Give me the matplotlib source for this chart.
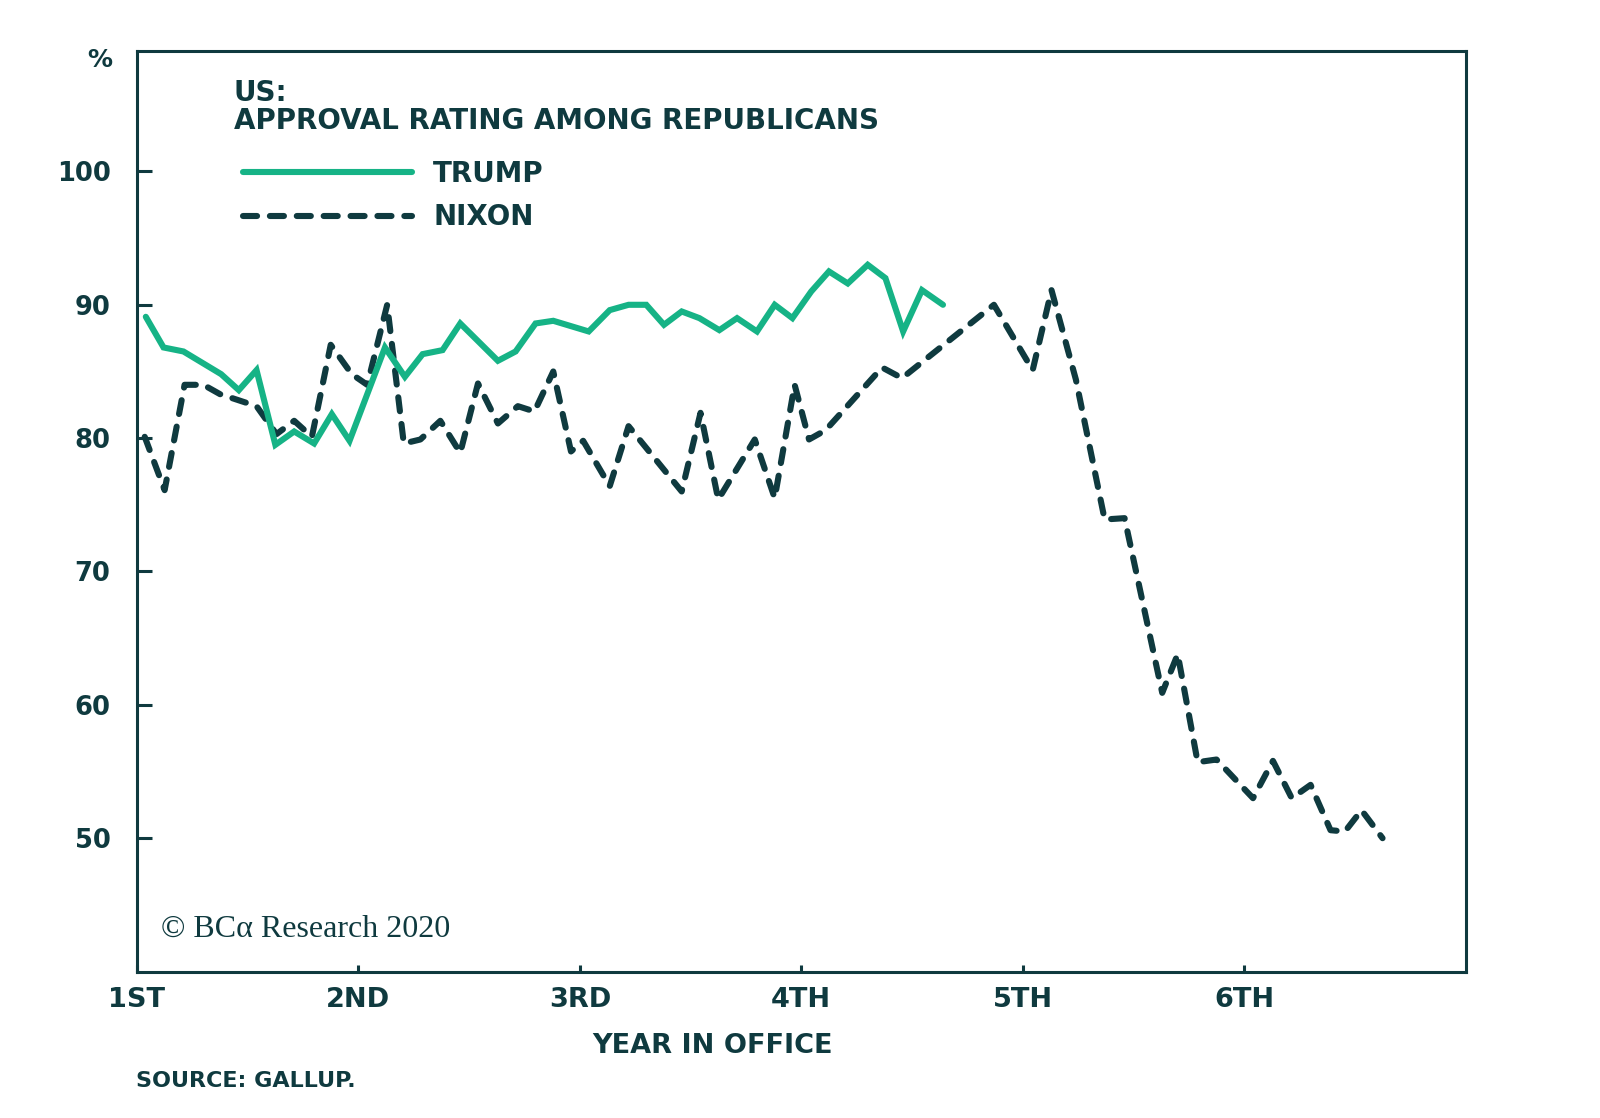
import matplotlib
matplotlib.use("Agg")
import matplotlib.pyplot as plt

# Colores
verde = "#16b386"
escuro = "#0f3a3f"

# Dados (posição em anos de mandato, aprovação %)
trump_x = [0.04, 0.12, 0.21, 0.38, 0.46, 0.54, 0.625, 0.71, 0.80, 0.88, 0.96,
           1.12, 1.21, 1.29, 1.38, 1.46, 1.63, 1.71, 1.80, 1.88, 2.04, 2.135,
           2.22, 2.30, 2.38, 2.46, 2.54, 2.63, 2.71, 2.80, 2.88, 2.96, 3.045,
           3.125, 3.21, 3.30, 3.38, 3.46, 3.545, 3.64]
trump_y = [89.1, 86.8, 86.5, 84.8, 83.6, 85.1, 79.5, 80.5, 79.6, 81.8, 79.8,
           86.8, 84.6, 86.3, 86.6, 88.6, 85.8, 86.5, 88.6, 88.8, 88.0, 89.6,
           90.0, 90.0, 88.5, 89.5, 89.0, 88.1, 89.0, 88.0, 90.0, 89.0, 91.0,
           92.5, 91.6, 93.0, 92.0, 88.0, 91.1, 90.0]

nixon_x = [0.035, 0.125, 0.215, 0.30, 0.375, 0.54, 0.63, 0.71, 0.79, 0.875,
           0.97, 1.04, 1.13, 1.205, 1.28, 1.37, 1.46, 1.54, 1.63, 1.72, 1.795,
           1.88, 1.96, 2.015, 2.135, 2.22, 2.46, 2.545, 2.625, 2.79, 2.88,
           2.97, 3.035, 3.11, 3.365, 3.455, 3.87, 4.045, 4.13, 4.24, 4.37,
           4.46, 4.63, 4.70, 4.79, 4.875, 5.04, 5.13, 5.215, 5.30, 5.39,
           5.455, 5.53, 5.625]
nixon_y = [80.1, 76.1, 84.0, 84.0, 83.3, 82.4, 80.3, 81.3, 80.1, 87.0,
           84.8, 84.0, 90.0, 79.6, 79.9, 81.3, 78.9, 84.1, 81.1, 82.4, 82.0,
           85.0, 79.0, 79.8, 76.4, 80.9, 76.0, 81.9, 75.4, 79.9, 75.5,
           84.0, 79.9, 80.6, 85.3, 84.5, 90.0, 85.1, 91.1, 84.4, 73.9,
           74.0, 60.9, 63.8, 55.7, 55.9, 53.0, 55.8, 53.0, 54.0, 50.6,
           50.5, 52.1, 50.0]

anos = [0, 1, 2, 3, 4, 5]
anos_labels = ["1ST", "2ND", "3RD", "4TH", "5TH", "6TH"]
y_ticks = [50, 60, 70, 80, 90, 100]

plt.rcParams['font.family'] = ['DejaVu Sans']

fig = plt.figure(figsize=(16, 11.18), dpi=100)
ax = fig.add_axes([0.0856, 0.131, 0.8304, 0.823])

ax.plot(trump_x, trump_y, color=verde, lw=4.4, solid_capstyle='round',
        solid_joinstyle='miter', label="TRUMP", zorder=3)
ax.plot(nixon_x, nixon_y, color=escuro, lw=4.4, dashes=(2.3, 2.1),
        dash_capstyle='round', label="NIXON", zorder=2)

ax.set_xlim(0, 6)
ax.set_ylim(40, 109)
ax.set_xticks(anos)
ax.set_xticklabels(anos_labels)
ax.set_yticks(y_ticks)

for s in ax.spines.values():
    s.set_linewidth(2.2)
    s.set_color(escuro)

ax.tick_params(axis='y', direction='in', length=11, width=2.2, pad=19,
               colors=escuro, labelsize=18.5)
ax.tick_params(axis='x', direction='in', length=5, width=2.2, pad=11,
               colors=escuro, labelsize=19.5)
for t in ax.get_xticklabels() + ax.get_yticklabels():
    t.set_fontweight('bold')

# Título e legenda
ax.text(0.073, 0.970, "US:\nAPPROVAL RATING AMONG REPUBLICANS",
        transform=ax.transAxes, ha='left', va='top', fontsize=20,
        fontweight='bold', color=escuro, linespacing=1.02)
leg = ax.legend(loc='upper left', bbox_to_anchor=(0.061, 0.909), frameon=False,
                handlelength=6.1, handletextpad=0.75, labelspacing=0.55,
                prop={'size': 20, 'weight': 'bold'})
for txt in leg.get_texts():
    txt.set_color(escuro)

ax.text(0.018, 0.046, "© BCα Research 2020", transform=ax.transAxes,
        ha='left', va='center', fontsize=23, color=escuro,
        family=['Liberation Serif', 'DejaVu Serif'])

fig.text(100 / 1600, 1 - 60 / 1118, "%", ha='center', va='center',
         fontsize=18, fontweight='bold', color=escuro)
fig.text(713 / 1600, 1 - 1046 / 1118, "YEAR IN OFFICE", ha='center',
         va='center', fontsize=19.5, fontweight='bold', color=escuro)
fig.text(136 / 1600, 1 - 1081 / 1118, "SOURCE: GALLUP.", ha='left',
         va='center', fontsize=16, fontweight='bold', color=escuro)

plt.savefig("out.png", dpi=100, facecolor='white')
